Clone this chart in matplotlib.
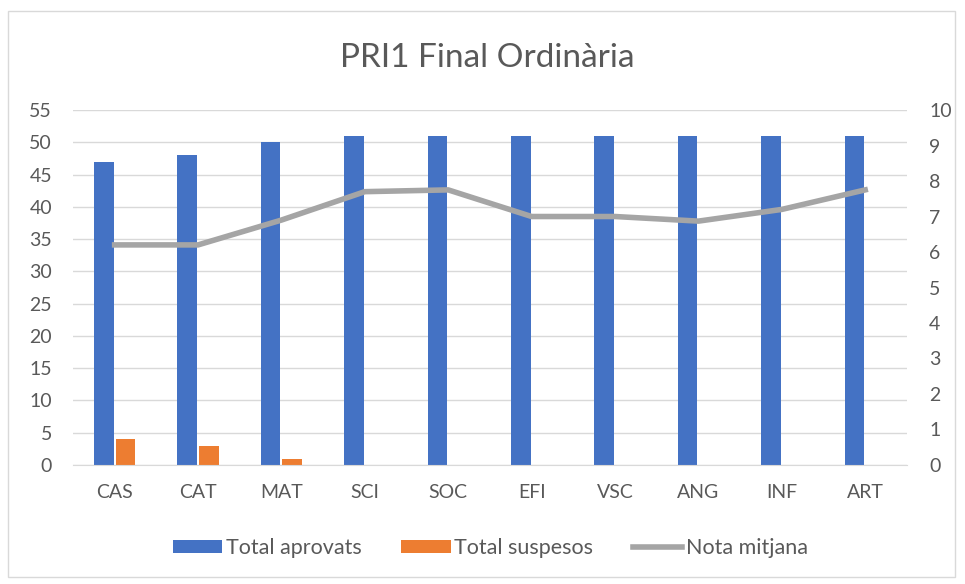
import matplotlib.pyplot as plt
import numpy as np
from matplotlib.patches import Rectangle

categories = ["CAS", "CAT", "MAT", "SCI", "SOC", "EFI", "VSC", "ANG", "INF", "ART"]
aprovats = [47, 48, 50, 51, 51, 51, 51, 51, 51, 51]
suspesos = [4, 3, 1, 0, 0, 0, 0, 0, 0, 0]
nota_mitjana = [6.2, 6.2, 6.9, 7.7, 7.75, 7.0, 7.0, 6.87, 7.2, 7.75]

blue = "#4472C4"
orange = "#ED7D31"
gray = "#A5A5A5"
text_col = "#595959"

plt.rcParams["font.family"] = ["Lato", "DejaVu Sans"]

fig = plt.figure(figsize=(9.65, 5.84), dpi=100)
fig.patches.append(Rectangle((0.008, 0.012), 0.982, 0.97, transform=fig.transFigure,
                             fill=False, edgecolor="#D9D9D9", linewidth=1))

# plot area ~ x 73..907, y 110..465 px
ax = fig.add_axes([0.0756, 0.2038, 0.8642, 0.6078])
ax2 = ax.twinx()

x = np.arange(len(categories))
w = 0.235
ax.bar(x - 0.13, aprovats, width=w, color=blue, label="Total aprovats", zorder=2)
ax.bar(x + 0.13, suspesos, width=w, color=orange, label="Total suspesos", zorder=2)
ax2.plot(x, nota_mitjana, color=gray, linewidth=4, label="Nota mitjana", solid_joinstyle="round")

ax.set_xlim(-0.5, len(categories) - 0.5)
ax.set_ylim(0, 55)
ax.set_yticks(range(0, 56, 5))
ax2.set_ylim(0, 10)
ax2.set_yticks(range(0, 11))
ax.set_xticks(x)
ax.set_xticklabels(categories)

ax.grid(axis="y", color="#D9D9D9", linewidth=1, zorder=0)
ax.set_axisbelow(True)
for a in (ax, ax2):
    for s in a.spines.values():
        s.set_visible(False)
    a.tick_params(length=0, colors=text_col, labelsize=14)
ax.spines["bottom"].set_visible(True)
ax.spines["bottom"].set_color("#D9D9D9")
ax.tick_params(axis="x", pad=14)
ax.tick_params(axis="y", pad=15)
ax2.tick_params(axis="y", pad=16)

fig.text(0.505, 0.9, "PRI1 Final Ordinària", ha="center", va="center", fontsize=24, color=text_col)

h1, l1 = ax.get_legend_handles_labels()
h2, l2 = ax2.get_legend_handles_labels()
fig.legend(h1 + h2, l1 + l2, loc="center", bbox_to_anchor=(0.508, 0.062), ncol=3, frameon=False,
           fontsize=15.5, labelcolor=text_col, handlelength=2.3, handleheight=0.55,
           handletextpad=0.15, columnspacing=1.85)

fig.savefig("out.png", dpi=100)
